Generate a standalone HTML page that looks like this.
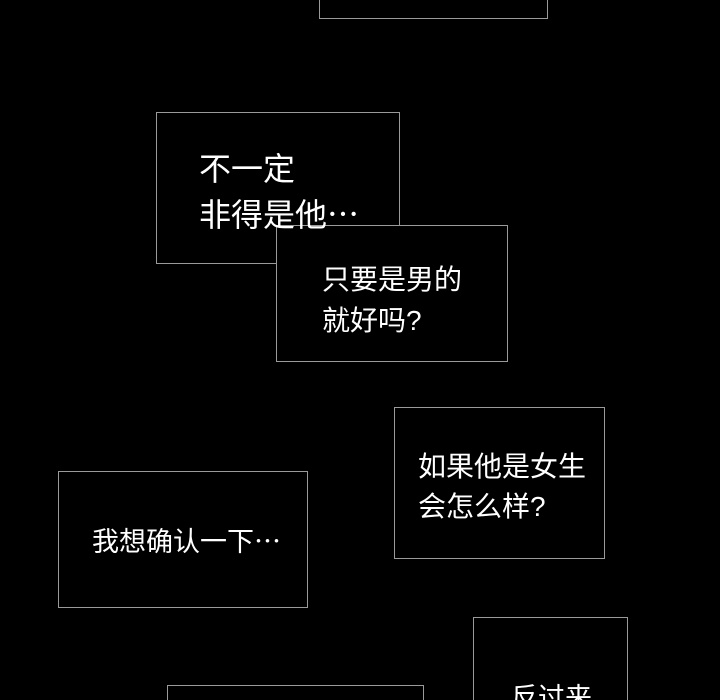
<!DOCTYPE html>
<html><head><meta charset="utf-8"><style>
html,body{margin:0;padding:0;background:#000;width:720px;height:700px;overflow:hidden;position:relative}
.b{position:absolute;border:1.5px solid #9a9a9a;background:#000;box-sizing:border-box}
.t{position:absolute;color:#fff;font-family:"Liberation Sans","Noto Sans CJK SC",sans-serif;white-space:nowrap}
.e{font-family:"Noto Sans CJK SC",sans-serif;line-height:0}
</style></head><body>
<div class="b" style="left:319px;top:-10px;width:229px;height:29px"></div>
<div class="b" style="left:156px;top:112px;width:244px;height:152px"></div>
<div class="b" style="left:276px;top:225px;width:232px;height:137px"></div>
<div class="b" style="left:394px;top:407px;width:211px;height:152px"></div>
<div class="b" style="left:58px;top:471px;width:250px;height:137px"></div>
<div class="b" style="left:473px;top:617px;width:155px;height:100px"></div>
<div class="b" style="left:167px;top:685px;width:257px;height:40px"></div>

<div class="t" style="left:199px;top:146px;font-size:32px;line-height:46px">不一定<br>非得是他<span class="e">…</span></div>
<div class="t" style="left:322px;top:259px;font-size:28px;line-height:41px">只要是男的<br>就好吗?</div>
<div class="t" style="left:418px;top:447px;font-size:28px;line-height:40px">如果他是女生<br>会怎么样?</div>
<div class="t" style="left:92px;top:524px;font-size:27px;line-height:36px">我想确认一下<span class="e">…</span></div>
<div class="t" style="left:511px;top:680px;font-size:27px;line-height:36px">反过来</div>
</body></html>
